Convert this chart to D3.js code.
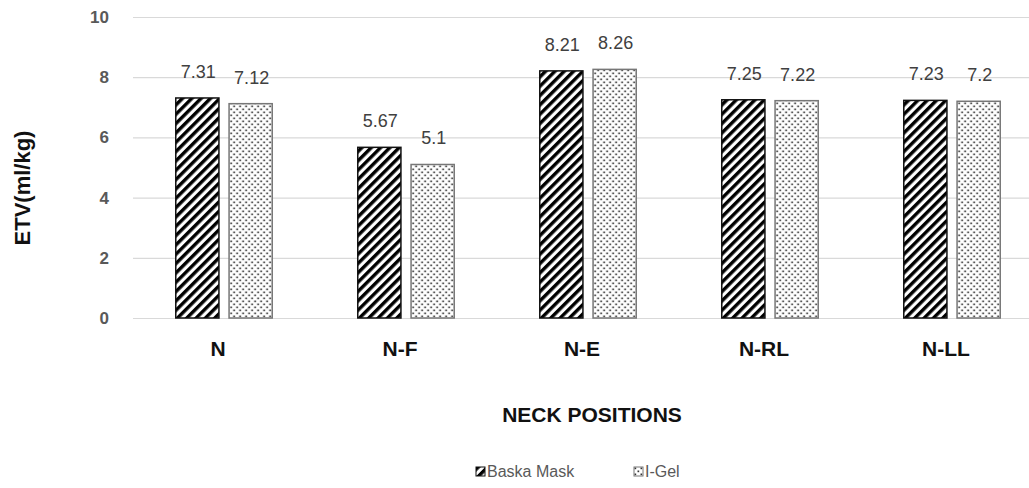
<!DOCTYPE html>
<html>
<head>
<meta charset="utf-8">
<script src="https://cdn.jsdelivr.net/npm/d3@7"></script>
<style>
  body { margin: 0; background: #fff; }
  svg { display: block; }
  text { font-family: "Liberation Sans", Arial, sans-serif; }
  .bold { font-weight: bold; }
</style>
</head>
<body>
<svg width="1029" height="488"></svg>
<script>
// 数据
var categories = ["N", "N-F", "N-E", "N-RL", "N-LL"];
var seriesNames = ["Baska Mask", "I-Gel"];
var baska = [7.31, 5.67, 8.21, 7.25, 7.23];
var igel = [7.12, 5.1, 8.26, 7.22, 7.2];
var yTicks = [0, 2, 4, 6, 8, 10];

var svg = d3.select("svg");

// 图案定义
var defs = svg.append("defs");
var hatch = defs.append("pattern")
    .attr("id", "hatch")
    .attr("patternUnits", "userSpaceOnUse")
    .attr("width", 6.6).attr("height", 6.6)
    .attr("patternTransform", "rotate(45)");
hatch.append("rect").attr("width", 6.6).attr("height", 6.6).attr("fill", "#fff");
hatch.append("rect").attr("width", 3.4).attr("height", 6.6).attr("fill", "#000");

var dots = defs.append("pattern")
    .attr("id", "dots")
    .attr("patternUnits", "userSpaceOnUse")
    .attr("width", 6).attr("height", 6);
dots.append("rect").attr("width", 6).attr("height", 6).attr("fill", "#fff");
dots.append("rect").attr("x", 0.5).attr("y", 0.5).attr("width", 1.7).attr("height", 1.7).attr("fill", "#333");
dots.append("rect").attr("x", 3.5).attr("y", 3.5).attr("width", 1.7).attr("height", 1.7).attr("fill", "#333");

var fills = ["url(#hatch)", "url(#dots)"];
var strokes = ["#111", "#777"];

// 比例尺
var x0 = d3.scaleBand().domain(categories).range([133, 1043])
    .paddingInner(0.47).paddingOuter(0.235);
var x1 = d3.scaleBand().domain(seriesNames).range([0, x0.bandwidth()])
    .paddingInner(0.19).paddingOuter(0);
var y = d3.scaleLinear().domain([0, 10]).range([318, 17]);

// 网格线
svg.append("g").selectAll("line")
    .data(yTicks)
    .enter().append("line")
    .attr("x1", 133).attr("x2", 1029)
    .attr("y1", function(d) { return y(d) + 0.5; })
    .attr("y2", function(d) { return y(d) + 0.5; })
    .attr("stroke", "#d9d9d9")
    .attr("stroke-width", 1.2);

// y轴刻度
svg.append("g").selectAll("text")
    .data(yTicks)
    .enter().append("text")
    .attr("class", "bold")
    .attr("x", 109)
    .attr("y", function(d) { return y(d) + 6; })
    .attr("text-anchor", "end")
    .attr("font-size", 17)
    .attr("fill", "#595959")
    .text(function(d) { return d; });

// 数据
var rows = categories.map(function(c, i) {
    return { cat: c, vals: [{ s: seriesNames[0], v: baska[i], k: 0 }, { s: seriesNames[1], v: igel[i], k: 1 }] };
});

var group = svg.append("g").selectAll("g")
    .data(rows)
    .enter().append("g")
    .attr("transform", function(d) { return "translate(" + x0(d.cat) + ",0)"; });

group.selectAll("rect")
    .data(function(d) { return d.vals; })
    .enter().append("rect")
    .attr("x", function(d) { return x1(d.s); })
    .attr("y", function(d) { return y(d.v); })
    .attr("width", x1.bandwidth())
    .attr("height", function(d) { return y(0) - y(d.v); })
    .attr("fill", function(d) { return fills[d.k]; })
    .attr("stroke", function(d) { return strokes[d.k]; })
    .attr("stroke-width", 1.5);

// 数据标签
group.selectAll("text")
    .data(function(d) { return d.vals; })
    .enter().append("text")
    .attr("x", function(d) { return x1(d.s) + x1.bandwidth() / 2 + 1; })
    .attr("y", function(d) { return y(d.v) - 20; })
    .attr("text-anchor", "middle")
    .attr("font-size", 18)
    .attr("fill", "#404040")
    .text(function(d) { return d.v; });

// 类别标签
svg.append("g").selectAll("text")
    .data(categories)
    .enter().append("text")
    .attr("class", "bold")
    .attr("x", function(d) { return x0(d) + x0.bandwidth() / 2 - 6; })
    .attr("y", 356)
    .attr("text-anchor", "middle")
    .attr("font-size", 21)
    .attr("fill", "#111")
    .text(function(d) { return d; });

// 轴标题
svg.append("text")
    .attr("class", "bold")
    .attr("x", 592).attr("y", 422)
    .attr("text-anchor", "middle")
    .attr("font-size", 21)
    .attr("fill", "#111")
    .text("NECK POSITIONS");

svg.append("text")
    .attr("class", "bold")
    .attr("transform", "translate(30,188) rotate(-90)")
    .attr("text-anchor", "middle")
    .attr("font-size", 22)
    .attr("fill", "#111")
    .text("ETV(ml/kg)");

// 图例
var legendX = [476, 634];
var legend = svg.append("g").selectAll("g")
    .data(seriesNames)
    .enter().append("g")
    .attr("transform", function(d, i) { return "translate(" + legendX[i] + ",467)"; });

legend.append("rect")
    .attr("width", 9).attr("height", 9)
    .attr("fill", function(d, i) { return fills[i]; })
    .attr("stroke", function(d, i) { return strokes[i]; })
    .attr("stroke-width", 1);

legend.append("text")
    .attr("x", 11).attr("y", 10)
    .attr("font-size", 16)
    .attr("fill", "#595959")
    .text(function(d) { return d; });
</script>
</body>
</html>
